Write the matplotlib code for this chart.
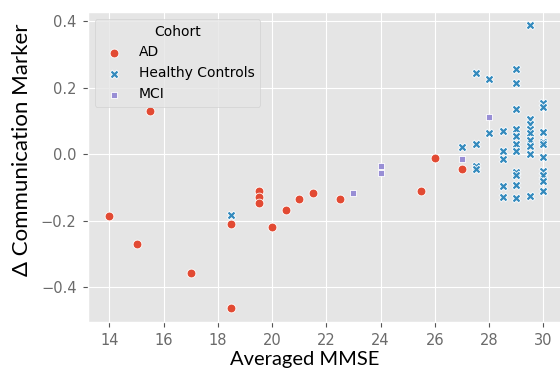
import matplotlib
matplotlib.use("Agg")
import matplotlib.pyplot as plt

plt.style.use("ggplot")

# AD cohort
ad_x = [14, 15, 15.5, 17, 18.5, 18.5, 19.5, 19.5, 19.5, 20, 20.5, 21, 21.5, 22.5, 25.5, 26, 27]
ad_y = [-0.185, -0.271, 0.129, -0.358, -0.21, -0.461, -0.110, -0.128, -0.146, -0.219,
        -0.168, -0.134, -0.118, -0.135, -0.112, -0.010, -0.044]

# Healthy controls
hc_x = [18.5,
        27,
        27.5, 27.5, 27.5, 27.5,
        28, 28,
        28.5, 28.5, 28.5, 28.5, 28.5,
        29, 29, 29, 29, 29, 29, 29, 29, 29, 29, 29,
        29.5, 29.5, 29.5, 29.5, 29.5, 29.5, 29.5, 29.5, 29.5,
        30, 30, 30, 30, 30, 30, 30, 30, 30, 30]
hc_y = [-0.183,
        0.022,
        0.243, 0.032, -0.035, -0.043,
        0.227, 0.065,
        0.070, 0.009, -0.013, -0.096, -0.128,
        0.257, 0.213, 0.137, 0.077, 0.054, 0.030, 0.010, -0.053, -0.063, -0.093, -0.133,
        0.387, 0.107, 0.092, 0.077, 0.065, 0.044, 0.024, 0.0, -0.126,
        0.155, 0.142, 0.067, 0.037, 0.030, -0.008, -0.050, -0.063, -0.080, -0.110]

# MCI
mci_x = [23, 24, 24, 27, 28]
mci_y = [-0.118, -0.036, -0.056, -0.015, 0.112]

x_ticks = [14, 16, 18, 20, 22, 24, 26, 28, 30]
y_ticks = [-0.4, -0.2, 0.0, 0.2, 0.4]

fig = plt.figure(figsize=(5.6, 3.76), dpi=100)
fig.patch.set_facecolor("white")
ax = fig.add_axes([87.7 / 560, 54.3 / 376, (565 - 87.7) / 560, (321.7 - 12) / 376])

ax.scatter(ad_x, ad_y, s=40, marker="o", color="#E24A33", edgecolor="white",
           linewidth=0.6, label="AD", zorder=3)
ax.scatter(hc_x, hc_y, s=40, marker="X", color="#348ABD", edgecolor="white",
           linewidth=0.6, label="Healthy Controls", zorder=3)
ax.scatter(mci_x, mci_y, s=40, marker=(4, 0, 45), color="#988ED5", edgecolor="white",
           linewidth=0.6, label="MCI", zorder=3)

ax.set_xlim(13.2, 30.8)
ax.set_ylim(-0.503, 0.427)
ax.set_xticks(x_ticks)
ax.set_yticks(y_ticks)
ax.tick_params(labelsize=10.5, colors="#555555", labelcolor="#6a6a6a", pad=4.5)

lab_font = ["Lato", "DejaVu Sans"]
ax.set_xlabel("Averaged MMSE", fontsize=14.5, color="black", family=lab_font)
ax.xaxis.set_label_coords(0.454, -0.0946)
ax.set_ylabel("\u0394 Communication Marker", fontsize=16, color="black", family=lab_font)
ax.yaxis.set_label_coords(-0.117, 0.554)

leg = ax.legend(title="Cohort", loc="upper left", fontsize=10, title_fontsize=10,
                borderaxespad=0.5)

fig.savefig("out.png", dpi=100)
